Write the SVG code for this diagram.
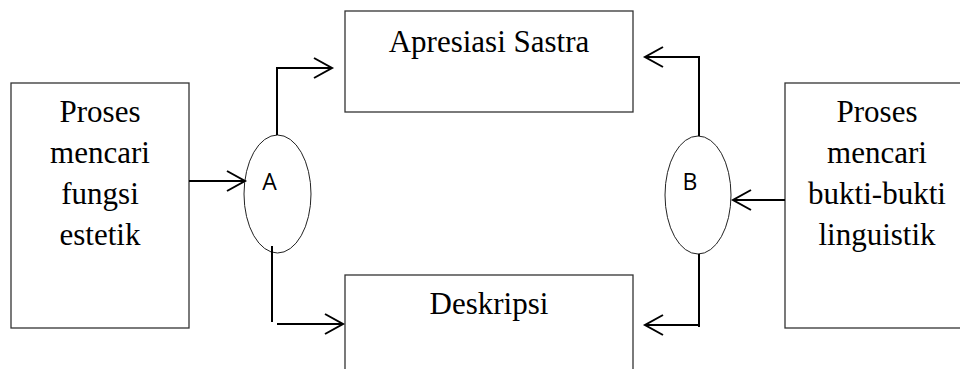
<svg xmlns="http://www.w3.org/2000/svg" width="960" height="369" viewBox="0 0 960 369">
<defs>
<style>
.box{fill:#fff;stroke:#333;stroke-width:1.3}
.ell{fill:#fff;stroke:#222;stroke-width:1}
.t{font-family:"Liberation Serif","Times New Roman",serif;font-size:31px;fill:#000;text-anchor:middle}
.s{font-family:"Open Sans","Liberation Sans",sans-serif;font-size:23px;fill:#000;text-anchor:middle}
.c{fill:none;stroke:#000;stroke-width:2}
</style>
<marker id="ah" markerUnits="userSpaceOnUse" markerWidth="22" markerHeight="24" refX="19" refY="11" orient="auto" viewBox="0 0 22 24">
<path d="M1,1 L19,11 L1,21" fill="none" stroke="#000" stroke-width="2"/>
</marker>
</defs>
<rect width="960" height="369" fill="#fff"/>
<g id="proses-kiri">
<rect class="box" x="11" y="83" width="178" height="245"/>
<text class="t" x="100" y="122">Proses</text>
<text class="t" x="100" y="163">mencari</text>
<text class="t" x="100" y="204">fungsi</text>
<text class="t" x="100" y="245">estetik</text>
</g>
<g id="apresiasi">
<rect class="box" x="345" y="11" width="288" height="101"/>
<text class="t" x="489" y="52">Apresiasi Sastra</text>
</g>
<g id="deskripsi">
<rect class="box" x="345" y="275" width="288" height="110"/>
<text class="t" x="489" y="314">Deskripsi</text>
</g>
<g id="proses-kanan">
<rect class="box" x="785" y="83" width="190" height="245"/>
<text class="t" x="877" y="122">Proses</text>
<text class="t" x="877" y="163">mencari</text>
<text class="t" x="877" y="204">bukti-bukti</text>
<text class="t" x="877" y="245">linguistik</text>
</g>
<g id="A">
<ellipse class="ell" cx="277.5" cy="194" rx="33.5" ry="59"/>
<text class="s" x="269.5" y="190">A</text>
</g>
<g id="B">
<ellipse class="ell" cx="698" cy="195" rx="33" ry="59"/>
<text class="s" x="690" y="190">B</text>
</g>
<g id="connectors">
<path class="c" d="M189,181 H245" marker-end="url(#ah)"/>
<path class="c" d="M277,135 V68 H332" marker-end="url(#ah)"/>
<path class="c" d="M272,246 V322"/>
<path class="c" d="M277,324 H343" marker-end="url(#ah)"/>
<path class="c" d="M785,200 H733" marker-end="url(#ah)"/>
<path class="c" d="M699,136 V57 H645" marker-end="url(#ah)"/>
<path class="c" d="M699,254 V327"/>
<path class="c" d="M699,325 H645" marker-end="url(#ah)"/>
</g>
</svg>
